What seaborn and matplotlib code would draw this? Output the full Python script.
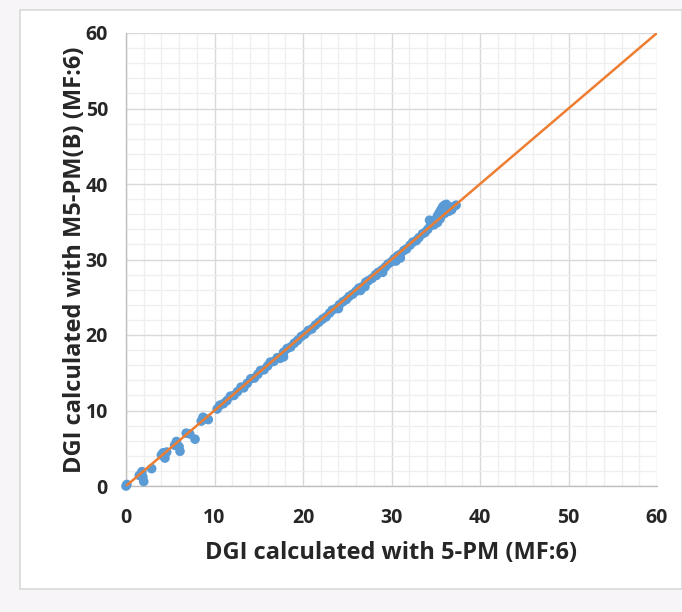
import matplotlib
matplotlib.use("Agg")
import matplotlib.pyplot as plt
import seaborn as sns
import pandas as pd
from matplotlib.patches import Rectangle
from matplotlib.ticker import MultipleLocator

# DGI values
dgi_5pm = [0.0, 0.1, 1.5, 1.8, 2.0, 1.9, 2.9, 4.0, 4.2, 4.4, 4.6, 5.5, 5.7, 6.1, 6.0, 6.8, 7.2, 7.8,
           8.5, 8.7, 9.3, 9.0,
           10.3, 10.6, 11.0, 11.4, 11.8, 12.2, 12.6, 13.0, 13.3, 13.7, 14.1, 14.5, 14.9, 15.2, 15.6,
           16.0, 16.3, 16.7, 17.1, 17.4, 17.8, 17.8, 18.2, 18.6, 19.0, 19.4, 19.8,
           20.2, 20.6, 21.0, 21.4, 21.8, 22.2, 22.6, 23.0, 23.3, 23.7, 24.1, 24.0, 24.5, 24.9, 25.2,
           25.6, 26.0, 26.3, 26.5, 26.7, 27.0, 27.1, 27.4, 27.8, 28.2, 28.3, 28.5, 28.9, 29.0, 29.3,
           29.6, 30.0, 30.3, 30.5, 30.7, 31.0, 31.0, 31.4, 31.7, 32.1, 32.4, 32.8, 33.1, 33.5, 33.8,
           34.1, 34.3, 34.4, 34.7, 34.8, 35.0, 35.2, 35.2, 35.4, 35.5, 35.6, 35.8, 36.0, 36.0, 36.2,
           36.4, 36.5, 36.7, 36.8, 37.0, 37.3]
dgi_m5pm = [0.0, 0.2, 1.4, 1.9, 0.6, 1.2, 2.3, 4.1, 4.4, 3.7, 4.5, 5.4, 5.9, 4.6, 5.2, 7.0, 6.9, 6.2,
            8.6, 9.1, 8.8, 8.9,
            10.2, 10.7, 10.9, 11.3, 11.9, 12.0, 12.5, 13.1, 13.0, 13.6, 14.2, 14.3, 14.8, 15.3, 15.4,
            15.9, 16.4, 16.5, 17.0, 16.9, 17.7, 17.1, 18.2, 18.4, 18.9, 19.3, 19.8,
            20.1, 20.6, 20.8, 21.3, 21.7, 22.1, 22.4, 22.9, 23.3, 23.5, 24.0, 23.5, 24.4, 24.7, 25.1,
            25.4, 25.8, 26.2, 25.9, 26.4, 26.4, 27.0, 27.2, 27.5, 28.0, 27.9, 28.3, 28.6, 28.3, 29.0,
            29.4, 29.7, 30.1, 29.8, 30.5, 30.7, 30.2, 31.2, 31.4, 31.9, 32.3, 32.5, 32.9, 33.4, 33.6,
            34.0, 35.2, 34.5, 34.8, 34.6, 35.3, 35.8, 34.9, 36.2, 35.4, 36.6, 37.0, 37.2, 36.1, 37.3,
            37.0, 36.4, 36.8, 36.6, 37.0, 37.2]
line_x = [0, 60]
line_y = [0, 60]

df = pd.DataFrame({"x": dgi_5pm, "y": dgi_m5pm})
line_df = pd.DataFrame({"x": line_x, "y": line_y})

sns.set_style("white")
plt.rcParams["font.family"] = ["Open Sans", "DejaVu Sans"]

fig = plt.figure(figsize=(6.82, 6.12), dpi=100, facecolor="#f7f5f7")
# white chart area with a thin border
fig.patches.append(Rectangle((20 / 682, 1 - 589 / 612), 662 / 682, 579 / 612,
                             transform=fig.transFigure, facecolor="white",
                             edgecolor="#d9d9d9", linewidth=1.2, zorder=-5))
ax = fig.add_axes([126 / 682, 1 - 486 / 612, 531 / 682, 453 / 612])
ax.set_zorder(2)
ax.set_facecolor("white")

sns.scatterplot(data=df, x="x", y="y", ax=ax, color="#5b9bd5", s=48,
                edgecolor="none", zorder=3, clip_on=False)
sns.lineplot(data=line_df, x="x", y="y", ax=ax, color="#ed7d31", linewidth=1.8, zorder=4)

ax.set_xlim(0, 60)
ax.set_ylim(0, 60)
ax.xaxis.set_major_locator(MultipleLocator(10))
ax.yaxis.set_major_locator(MultipleLocator(10))
ax.xaxis.set_minor_locator(MultipleLocator(2))
ax.yaxis.set_minor_locator(MultipleLocator(2))
ax.grid(which="major", color="#d9d9d9", linewidth=1.0)
ax.grid(which="minor", color="#efefef", linewidth=0.9)
ax.set_axisbelow(True)

for side in ["top", "right"]:
    ax.spines[side].set_visible(False)
for side in ["left", "bottom"]:
    ax.spines[side].set_color("#bfbfbf")
    ax.spines[side].set_linewidth(1.0)

ax.tick_params(axis="both", which="major", direction="out", length=5, width=1,
               color="#bfbfbf", labelsize=14)
ax.tick_params(axis="x", pad=11)
ax.tick_params(axis="y", pad=8)
ax.tick_params(which="minor", length=0)
for lab in ax.get_xticklabels() + ax.get_yticklabels():
    lab.set_fontweight("bold")

ax.set_xlabel("DGI calculated with 5-PM (MF:6)", fontsize=17, fontweight="bold")
ax.set_ylabel("DGI calculated with M5-PM(B) (MF:6)", fontsize=17, fontweight="bold")
ax.xaxis.set_label_coords(0.5, -0.148)
ax.xaxis.label.set_va("center")
ax.yaxis.set_label_coords(-0.096, 0.5)
ax.yaxis.label.set_va("center")

fig.savefig("out.png", dpi=100, facecolor=fig.get_facecolor())
